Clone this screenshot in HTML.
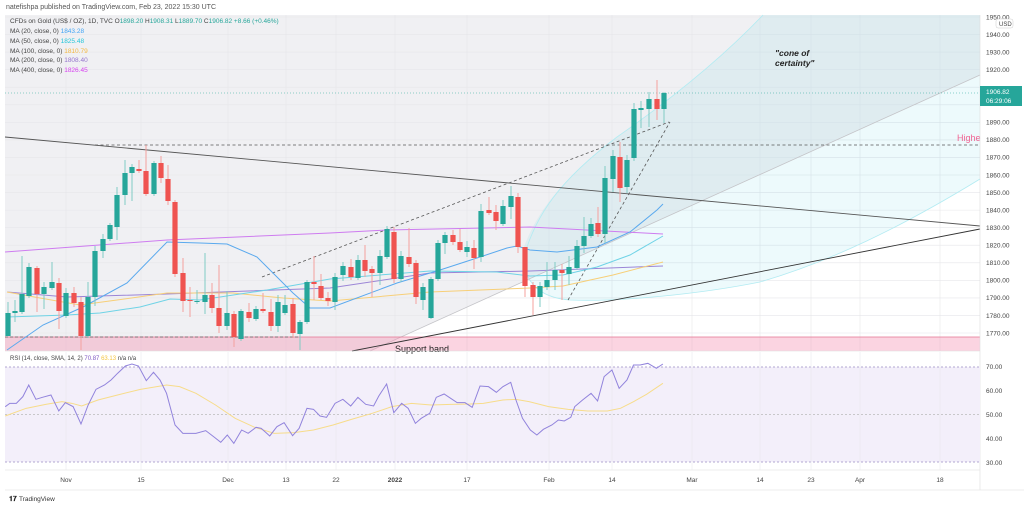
<!DOCTYPE html>
<html><head><meta charset="utf-8"><style>
html,body{margin:0;padding:0;background:#fff;width:1024px;height:508px;overflow:hidden}
svg{display:block;font-family:"Liberation Sans",sans-serif}
</style></head><body>
<svg id="s" width="1024" height="508" viewBox="0 0 1024 508" xmlns="http://www.w3.org/2000/svg">
<rect width="1024" height="508" fill="#fff"/>
<text x="6" y="9" font-size="7" fill="#555">natefishpa published on TradingView.com, Feb 23, 2022 15:30 UTC</text>
<!-- main pane backgrounds -->
<rect x="5" y="15" width="975" height="336" fill="#fff"/>
<polygon points="5,15 980,15 980,75 370,351 5,351" fill="#f0f0f3"/>
<g id="grid" stroke="#e6e6ea" stroke-width="0.6"></g>
<!-- cone -->
<path d="M523,265 L523,250 C535,215 560,180 617,137 C670,100 720,60 763,15 L980,15 L980,179 C900,228 829,262 760,282 C700,294 620,302 570,300 C545,298 528,288 523,265 Z" fill="rgba(0,188,212,0.07)"/>
<path d="M523,260 C535,215 560,180 617,137 C670,100 720,60 763,15" fill="none" stroke="#b2ebf2" stroke-width="0.8"/>
<path d="M980,179 C900,228 829,262 760,282 C700,294 620,302 570,300 C545,298 528,288 523,262" fill="none" stroke="#b2ebf2" stroke-width="0.8"/>
<line x1="370" y1="351" x2="980" y2="75" stroke="#c4c4c8" stroke-width="0.8"/>
<!-- support band -->
<rect x="5" y="337" width="975" height="14" fill="rgba(244,143,177,0.38)"/>
<line x1="5" y1="337" x2="980" y2="337" stroke="#e57390" stroke-width="0.8"/>
<line x1="5" y1="337" x2="300" y2="337" stroke="#666" stroke-width="0.7" stroke-dasharray="3,2"/>
<text x="395" y="352" font-size="9" fill="#222">Support band</text>
<!-- trendlines -->
<line x1="5" y1="137" x2="980" y2="226" stroke="#555" stroke-width="0.9"/>
<line x1="352" y1="351" x2="980" y2="229" stroke="#333" stroke-width="0.9"/>
<line x1="95" y1="145" x2="980" y2="145" stroke="#555" stroke-width="0.8" stroke-dasharray="3,2.5"/>
<line x1="262" y1="277" x2="669" y2="122" stroke="#555" stroke-width="0.8" stroke-dasharray="3,2.5"/>
<line x1="568" y1="300" x2="670" y2="122" stroke="#555" stroke-width="0.8" stroke-dasharray="3,2.5"/>
<line x1="5" y1="93" x2="980" y2="93" stroke="#26a69a" stroke-width="0.6" stroke-dasharray="1,2"/>
<!-- MAs -->
<polyline fill="none" stroke="#ce7cf0" stroke-width="1" points="5,252 167,240 330,233 387,230 530,227 663,234"/>
<polyline fill="none" stroke="#9b85d6" stroke-width="1" points="7,292 67,297 167,294 330,288 430,273 530,271 663,266"/>
<polyline fill="none" stroke="#f7cf78" stroke-width="1" points="7,292 40,298 80,305 117,300 167,293 233,293 283,298 330,301 430,292 530,288 563,286 613,275 663,262"/>
<polyline fill="none" stroke="#6fd3e6" stroke-width="1" points="7,317 67,315 100,313 140,307 170,299 200,300 267,290 330,279 430,271 497,272 530,276 563,275 597,267 630,255 663,236"/>
<polyline fill="none" stroke="#5aa9ee" stroke-width="1" points="7,350 43,325 83,307 127,283 167,242 200,243 227,244 257,257 293,293 310,308 330,308 397,283 440,270 480,257 507,248 517,246 530,250 557,252 597,247 630,232 657,210 663,204"/>
<g id="candles"></g>
<text x="775" y="56" font-size="8.5" font-style="italic" font-weight="bold" fill="#222">"cone of</text>
<text x="775" y="66" font-size="8.5" font-style="italic" font-weight="bold" fill="#222">certainty"</text>
<text x="957" y="141" font-size="9" fill="#f06292">Highe</text>
<!-- legend -->
<g font-size="6.5" fill="#444">
<text x="10" y="23">CFDs on Gold (US$ / OZ), 1D, TVC  O<tspan fill="#26a69a">1898.20</tspan> H<tspan fill="#26a69a">1908.31</tspan> L<tspan fill="#26a69a">1889.70</tspan> C<tspan fill="#26a69a">1906.82 +8.66 (+0.46%)</tspan></text>
<text x="10" y="33">MA (20, close, 0) <tspan fill="#42a5f5">1843.28</tspan></text>
<text x="10" y="43">MA (50, close, 0) <tspan fill="#26c6da">1825.48</tspan></text>
<text x="10" y="53">MA (100, close, 0) <tspan fill="#f5b942">1810.79</tspan></text>
<text x="10" y="62">MA (200, close, 0) <tspan fill="#9575cd">1808.40</tspan></text>
<text x="10" y="72">MA (400, close, 0) <tspan fill="#d63ff0">1826.45</tspan></text>
</g>
<!-- price axis -->
<line x1="980" y1="15" x2="980" y2="490" stroke="#ddd" stroke-width="0.6"/>
<g id="pax" font-size="6.5" fill="#444"></g>
<rect x="996" y="19" width="17" height="9" rx="2" fill="#fff" stroke="#ccc" stroke-width="0.5"/>
<text x="999" y="26" font-size="6" fill="#444">USD</text>
<rect x="980" y="86" width="42" height="20" fill="#26a69a"/>
<text x="986" y="94" font-size="6.5" fill="#fff">1906.82</text>
<text x="986" y="103" font-size="6.5" fill="#fff">06:29:06</text>
<!-- RSI pane -->
<line x1="5" y1="351" x2="980" y2="351" stroke="#ddd" stroke-width="0.6"/>
<rect x="5" y="367" width="975" height="95" fill="#f3effa"/>
<g stroke="#9a8cc4" stroke-width="0.7" stroke-dasharray="2,2">
<line x1="5" y1="367" x2="980" y2="367"/><line x1="5" y1="414.5" x2="980" y2="414.5" stroke="#bbb"/><line x1="5" y1="462" x2="980" y2="462"/>
</g>
<g id="rgrid" stroke="#e6e6ec" stroke-width="0.5"></g>
<text x="10" y="360" font-size="6" fill="#444">RSI (14, close, SMA, 14, 2) <tspan fill="#7e57c2">70.87</tspan> <tspan fill="#f5c542">63.13</tspan> n/a n/a</text>
<g transform="translate(0,340) scale(0.6531,0.3333)">
<polyline fill="none" stroke="#f7dc8a" stroke-width="1" vector-effect="non-scaling-stroke" points="8,228 40,205 70,193 95,185 110,190 125,198 150,180 180,165 215,148 255,135 275,140 300,160 330,195 360,235 390,262 420,280 450,278 480,270 510,255 540,237 570,220 600,200 630,190 660,195 690,193 720,192 740,190 770,180 790,178 810,185 840,200 870,208 900,213 930,213 950,205 970,185 990,163 1015,130"/>
<polyline fill="none" stroke="#9183dc" stroke-width="1" vector-effect="non-scaling-stroke" points="8,200 15,190 25,190 35,170 44,135 55,178 65,172 78,165 90,213 100,188 112,200 124,252 135,195 147,148 160,135 170,120 180,100 192,78 202,72 212,78 224,122 235,97 245,120 255,160 268,255 280,280 300,280 315,272 327,290 338,307 348,285 358,310 370,270 380,280 392,262 400,265 413,288 424,260 435,248 448,287 458,265 470,205 480,208 490,228 500,232 513,190 525,178 537,198 548,172 560,193 572,198 580,168 592,132 603,218 615,190 625,205 636,250 645,235 658,220 668,172 680,162 690,175 700,188 712,188 723,202 735,138 748,140 760,157 770,140 782,127 790,180 800,235 812,270 822,285 832,268 845,255 855,240 864,243 874,232 880,200 892,180 905,160 915,183 925,110 937,90 948,145 960,120 970,75 980,75 992,70 1005,85 1015,72"/>
</g>
<g font-size="6.5" fill="#444">
<text x="986" y="369">70.00</text><text x="986" y="393">60.00</text><text x="986" y="417">50.00</text><text x="986" y="441">40.00</text><text x="986" y="465">30.00</text>
</g>
<!-- x axis -->
<line x1="5" y1="470" x2="980" y2="470" stroke="#ddd" stroke-width="0.6"/>
<line x1="5" y1="490" x2="1024" y2="490" stroke="#ddd" stroke-width="0.6"/>
<g id="xax" font-size="6.5" fill="#444" text-anchor="middle"></g>
<text x="9" y="501" font-size="7" font-weight="bold" fill="#222">𝟏𝟕</text>
<text x="19" y="501" font-size="6.5" fill="#333">TradingView</text>
</svg>
<script>
var NS="http://www.w3.org/2000/svg";
function el(p,t,a,txt){var e=document.createElementNS(NS,t);for(var k in a)e.setAttribute(k,a[k]);if(txt)e.textContent=txt;p.appendChild(e);return e;}
var xs=[[66,"Nov"],[141,"15"],[228,"Dec"],[286,"13"],[336,"22"],[395,"2022"],[467,"17"],[549,"Feb"],[612,"14"],[692,"Mar"],[760,"14"],[811,"23"],[860,"Apr"],[940,"18"]];
var g=document.getElementById("grid"),rg=document.getElementById("rgrid"),xa=document.getElementById("xax");
xs.forEach(function(d){el(g,"line",{x1:d[0],y1:15,x2:d[0],y2:351});el(rg,"line",{x1:d[0],y1:352,x2:d[0],y2:470});
var t=el(xa,"text",{x:d[0],y:482},d[1]);if(d[1]=="2022")t.setAttribute("font-weight","bold");});
var pa=document.getElementById("pax");
for(var p=1950;p>=1770;p-=10){var y=17+(1950-p)*1.7556;el(g,"line",{x1:5,y1:y,x2:980,y2:y});
if(p!=1910&&p!=1900)el(pa,"text",{x:986,y:y+2.3},p.toFixed(2));}
var C=[[8,313,336,302,336,1],[15,311,313,300,322,1],[22,294,312,256,314,1],[29,267,296,263,298,1],[37,268,294,266,312,0],[44,287,294,282,309,1],[52,282,288,262,290,1],[59,283,311,278,329,0],[66,293,316,288,318,1],[74,293,303,287,307,0],[81,302,336,297,350,0],[88,297,336,282,338,1],[95,251,297,246,306,1],[103,239,251,234,258,1],[110,225,239,223,241,1],[117,195,227,187,240,1],[125,173,195,160,205,1],[132,167,173,164,201,1],[139,169,171,160,173,0],[146,171,194,145,196,0],[154,163,194,161,196,1],[161,163,178,156,183,0],[168,179,201,165,205,0],[175,202,274,200,277,0],[183,273,301,258,312,0],[190,300,301,287,317,0],[197,301,302,290,304,1],[205,295,302,253,314,1],[212,295,308,283,313,0],[219,308,326,265,333,0],[227,313,326,291,330,1],[234,314,337,311,347,0],[241,311,339,309,341,1],[249,312,318,303,322,0],[256,309,319,306,321,1],[263,309,311,293,313,0],[271,312,326,299,331,0],[278,302,326,295,332,1],[285,305,313,295,315,1],[293,304,333,298,338,0],[300,322,334,320,350,1],[307,282,322,280,324,1],[314,282,284,256,300,0],[321,286,298,274,300,0],[328,298,301,292,306,0],[335,277,302,273,310,1],[343,266,275,262,281,1],[351,267,277,259,280,0],[358,260,278,255,280,1],[365,260,271,245,277,0],[372,269,273,266,297,0],[380,256,273,250,285,1],[387,229,257,226,259,1],[394,232,279,227,283,0],[401,256,279,251,282,1],[409,257,264,228,267,0],[416,263,297,260,304,0],[423,287,300,283,310,1],[431,279,318,277,319,1],[438,243,279,240,281,1],[445,235,243,232,254,1],[453,235,242,230,245,0],[460,242,250,229,252,0],[467,247,252,241,257,1],[474,248,258,240,269,0],[481,211,257,204,262,1],[489,210,213,197,215,0],[496,212,221,205,230,0],[503,206,224,200,226,1],[511,196,207,186,219,1],[518,197,247,193,253,0],[525,247,286,247,297,0],[533,285,297,282,315,0],[540,286,297,282,307,1],[547,280,287,262,290,1],[555,270,280,262,290,1],[562,270,273,264,300,0],[569,267,274,256,285,1],[577,246,268,240,270,1],[584,236,246,217,253,1],[591,224,236,218,238,1],[598,223,234,207,237,0],[605,178,234,166,243,1],[613,156,179,150,192,1],[620,157,188,142,202,0],[627,160,187,155,193,1],[634,109,158,103,161,1],[641,108,110,101,128,1],[649,99,109,92,127,1],[657,99,109,80,120,0],[664,93,109,92,123,1]];
var cg=document.getElementById("candles");
C.forEach(function(c){var col=c[5]?"#26a69a":"#ef5350",wc=c[5]?"#80cbc4":"#f4a09e";
el(cg,"line",{x1:c[0],y1:c[3],x2:c[0],y2:c[4],stroke:wc,"stroke-width":1});
el(cg,"rect",{x:c[0]-2.6,y:c[1],width:5.2,height:Math.max(1,c[2]-c[1]),fill:col});});
</script>
</body></html>
